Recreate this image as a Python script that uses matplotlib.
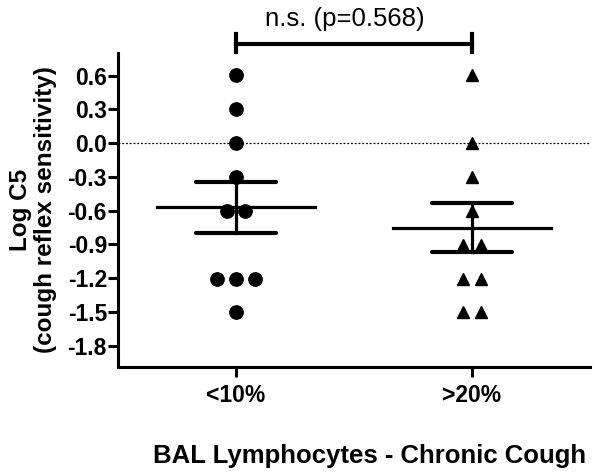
import numpy as np
import matplotlib
matplotlib.use("Agg")
import matplotlib.pyplot as plt

plt.rcParams['font.family'] = ['Liberation Sans', 'DejaVu Sans']

# data (log C5 per patient)
groups = ["<10%", ">20%"]
low_lymph = [0.602, 0.301, 0.0, -0.301, -0.602, -0.602, -1.204, -1.204, -1.204, -1.505]
high_lymph = [0.602, 0.0, -0.301, -0.602, -0.903, -0.903, -1.204, -1.204, -1.505, -1.505]
yticks = [-1.8, -1.5, -1.2, -0.9, -0.6, -0.3, 0.0, 0.3, 0.6]
ytick_labels = ["-1.8", "-1.5", "-1.2", "-0.9", "-0.6", "-0.3", "0.0", "0.3", "0.6"]
p_text = "n.s. (p=0.568)"

fig = plt.figure(figsize=(6, 4.75), dpi=100)
ax = fig.add_axes([118 / 600, 1 - 367 / 475, 472 / 600, 314 / 475])


def jitter(vals, step=0.08):
    vals = np.asarray(vals)
    off = np.zeros(len(vals))
    for v in np.unique(vals):
        idx = np.where(vals == v)[0]
        n = len(idx)
        off[idx] = (np.arange(n) - (n - 1) / 2) * step
    return off


ax.axhline(0, color="black", lw=0.9, ls=(0, (1.5, 1.5)), zorder=1)

for i, (vals, mk, ms) in enumerate([(low_lymph, "o", 9.6), (high_lymph, "^", 8.8)]):
    x0 = i + 1
    xs = x0 + jitter(vals)
    ax.plot(xs, vals, ls="none", marker=mk, ms=ms, color="black", zorder=2)
    m = np.mean(vals)
    sem = np.std(vals, ddof=1) / np.sqrt(len(vals))
    ax.plot([x0 - 0.335, x0 + 0.335], [m, m], color="black", lw=2.3, zorder=3)
    ax.plot([x0, x0], [m - sem, m + sem], color="black", lw=2.3, zorder=3)
    for y in (m - sem, m + sem):
        ax.plot([x0 - 0.17, x0 + 0.17], [y, y], color="black", lw=3.0,
                solid_capstyle="round", zorder=3)

# significance bracket
ax.plot([1, 2], [0.884, 0.884], color="black", lw=3.0, clip_on=False)
for x in (1, 2):
    ax.plot([x, x], [0.805, 0.965], color="black", lw=3.0, clip_on=False)
ax.text(1.46, 1.105, p_text, ha="center", va="center", fontsize=18.5)

ax.set_xlim(0.5, 2.5)
ax.set_ylim(-1.99, 0.8)
ax.set_xticks([1, 2])
ax.set_xticklabels(groups, fontsize=16.5, fontweight="bold")
ax.set_yticks(yticks)
ax.set_yticklabels(ytick_labels, fontsize=16.5, fontweight="bold")

for s in ["top", "right"]:
    ax.spines[s].set_visible(False)
for s in ["left", "bottom"]:
    ax.spines[s].set_linewidth(2.2)
ax.tick_params(axis="both", width=2.2, length=7, color="black")
ax.tick_params(axis="y", pad=1)
ax.tick_params(axis="x", pad=5)

fig.text(33 / 600, 1 - 210 / 475, "Log C5\n(cough reflex sensitivity)", rotation=90,
         ha="center", va="center", fontsize=17.5, fontweight="bold", linespacing=1.15)
fig.text(370 / 600, 1 - 456 / 475, "BAL Lymphocytes - Chronic Cough",
         ha="center", va="center", fontsize=18.5, fontweight="bold")

fig.savefig("out.png", dpi=100)
